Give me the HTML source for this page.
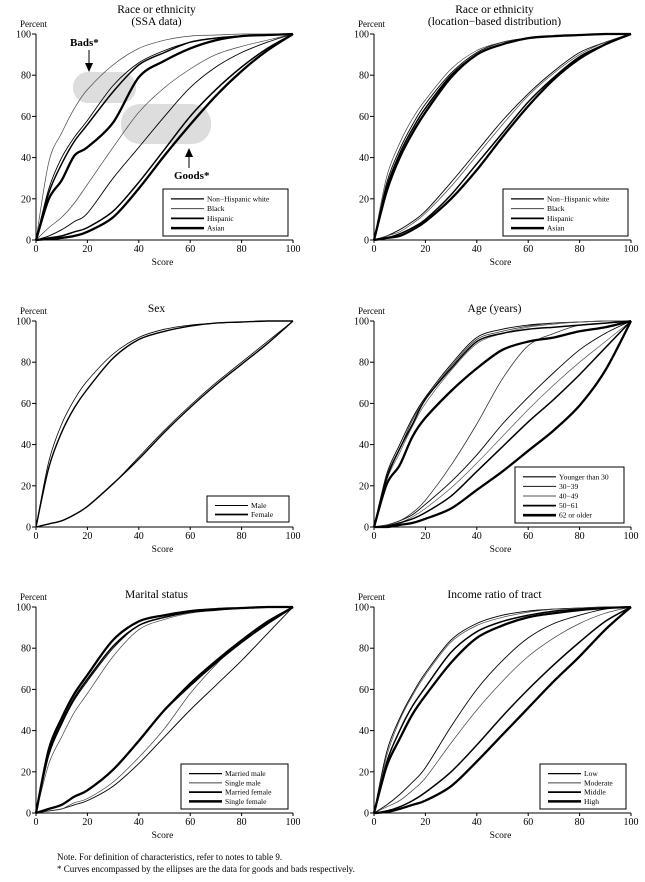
<!DOCTYPE html>
<html><head><meta charset="utf-8">
<style>
html,body{margin:0;padding:0;background:#fff;}
svg{display:block;font-family:"Liberation Serif",serif;}
</style></head>
<body>
<svg id="chart" width="645" height="882" viewBox="0 0 645 882" xmlns="http://www.w3.org/2000/svg"></svg>
<script>
// x-grid of score values (shared by every series)
const scoreGrid = [0,5,10,15,20,30,40,50,60,70,80,90,100];
const yTicks = [0,20,40,60,80,100];
const xTicks = [0,20,40,60,80,100];

// Panel 1: Race (SSA)
const p1Labels = ["Non\u2212Hispanic white","Black","Hispanic","Asian"];
const p1Bads = [
  [0,25,40,50,58,75,86,92,96,98,99,99.5,100],
  [0,38,52,64,73,85,93,97,99,99.5,100,100,100],
  [0,23,37,48,56,72,85,91,96,98,99,99.5,100],
  [0,20,29,41,45,57,79,87,93,97,99,99.5,100]
];
const p1Goods = [
  [0,2,5,9,13,30,45,60,74,84,91,96,100],
  [0,6,11,18,27,45,62,74,83,90,94,97,100],
  [0,1,2,4,6,14,28,44,60,73,84,93,100],
  [0,0.5,1,2,4,11,25,41,56,70,82,92,100]
];
// Panel 2: Race (location)
const p2Labels = ["Non\u2212Hispanic white","Black","Hispanic","Asian"];
const p2Bads = [
  [0,28,44,56,66,81,91,96,98,99,99.5,100,100],
  [0,31,47,59,68,83,92,96,98,99,99.5,100,100],
  [0,26,42,54,64,80,90,95,98,99,99.5,100,100],
  [0,24,40,52,62,79,90,95,98,99,99.5,100,100]
];
const p2Goods = [
  [0,2,5,9,14,28,43,58,71,82,91,96,100],
  [0,2,4,8,13,26,41,56,70,81,90,96,100],
  [0,1,3,6,10,22,37,52,67,79,89,95,100],
  [0,1,2,5,9,20,34,50,65,78,88,95,100]
];
// Panel 3: Sex
const p3Labels = ["Male","Female"];
const p3Bads = [
  [0,32,50,62,71,84,92,96,98,99,99.5,100,100],
  [0,29,46,58,67,82,91,95,97.5,99,99.5,100,100]
];
const p3Goods = [
  [0,1.5,3,6,10,21,34,47,59,70,80,90,100],
  [0,1.5,3,6,10,21,33,46,58,69,79,89,100]
];
// Panel 4: Age
const p4Labels = ["Younger than 30","30\u221239","40\u221249","50\u221261","62 or older"];
const p4Bads = [
  [0,26,40,53,63,79,92,96,98,99,99.5,100,100],
  [0,25,38,52,62,78,91,95,97.5,99,99.5,100,100],
  [0,23,36,49,60,76,89,94,97,98.5,99.5,100,100],
  [0,24,38,50,62,77,90,94,96,97,98,99,100],
  [0,21,30,44,53,66,77,86,90,92,95,97,100]
];
const p4Goods = [
  [0,1,3,6,11,22,35,50,63,75,86,94,100],
  [0,1,3,7,13,30,50,72,88,94,98,99,100],
  [0,1,2,5,9,19,31,44,57,69,80,90,100],
  [0,0.5,2,4,7,15,27,39,51,62,74,87,100],
  [0,0,1,2,4,9,18,27,37,47,59,76,100]
];
// Panel 5: Marital
const p5Labels = ["Married male","Single male","Married female","Single female"];
const p5Bads = [
  [0,28,43,55,64,80,91,95,97.5,98.5,99.5,100,100],
  [0,24,37,49,58,76,89,94,97,98.5,99.5,100,100],
  [0,29,44,56,65,81,91,95,97.5,98.5,99.5,100,100],
  [0,31,46,58,67,84,93,96,98,99,99.5,100,100]
];
const p5Goods = [
  [0,1,2,4,6,13,24,37,50,62,74,87,100],
  [0,1,2,5,7,15,27,41,58,72,84,93,100],
  [0,2,4,8,11,21,35,50,63,74,84,93,100],
  [0,2,4,8,11,21,35,50,62,73,83,92,100]
];
// Panel 6: Income
const p6Labels = ["Low","Moderate","Middle","High"];
const p6Bads = [
  [0,30,46,58,68,84,92,96,98,99,99.5,100,100],
  [0,28,45,57,67,83,91,95,97.5,99,99.5,100,100],
  [0,25,40,52,61,78,88,93,96,98,99,99.5,100],
  [0,23,36,48,57,73,85,91,95,97,98.5,99.5,100]
];
const p6Goods = [
  [0,4,9,15,22,42,60,74,85,92,96,99,100],
  [0,3,6,11,17,34,50,64,76,85,92,97,100],
  [0,1,3,6,10,20,33,47,60,72,83,93,100],
  [0,0.5,2,4,6,13,25,38,51,64,76,89,100]
];

const widths2 = [0.9,0.7,1.5,2.3];
const colors2 = ["#000","#444","#000","#000"];
const widths5 = [0.9,0.8,0.7,1.5,2.3];
const colors5 = ["#000","#333","#555","#000","#000"];

const panels = [
  {name:"race-ssa",title:["Race or ethnicity","(SSA data)"],x0:36,x1:293,y0:240,y1:34,labels:p1Labels,bads:p1Bads,goods:p1Goods,w:widths2,c:colors2,leg:[163,189,125,47]},
  {name:"race-location",title:["Race or ethnicity","(location\u2212based distribution)"],x0:374,x1:631,y0:240,y1:34,labels:p2Labels,bads:p2Bads,goods:p2Goods,w:widths2,c:colors2,leg:[503,189,125,47]},
  {name:"sex",title:["Sex"],x0:36,x1:293,y0:527,y1:321,labels:p3Labels,bads:p3Bads,goods:p3Goods,w:[0.8,1.4],c:["#000","#000"],leg:[207,496,82,26]},
  {name:"age",title:["Age (years)"],x0:374,x1:631,y0:527,y1:321,labels:p4Labels,bads:p4Bads,goods:p4Goods,w:widths5,c:colors5,leg:[515,467,109,56]},
  {name:"marital",title:["Marital status"],x0:36,x1:293,y0:813,y1:607,labels:p5Labels,bads:p5Bads,goods:p5Goods,w:widths2,c:colors2,leg:[181,764,107,45]},
  {name:"income",title:["Income ratio of tract"],x0:374,x1:631,y0:813,y1:607,labels:p6Labels,bads:p6Bads,goods:p6Goods,w:widths2,c:colors2,leg:[540,764,86,45]}
];

const NS="http://www.w3.org/2000/svg";
const svg=document.getElementById('chart');
function mk(tag,attrs,parent,text){const e=document.createElementNS(NS,tag);for(const k in attrs)e.setAttribute(k,attrs[k]);if(text!==undefined)e.textContent=text;(parent||svg).appendChild(e);return e;}
function smoothPath(pts){
  let d=`M${pts[0][0].toFixed(1)},${pts[0][1].toFixed(1)}`;
  for(let i=0;i<pts.length-1;i++){
    const p0=pts[Math.max(0,i-1)],p1=pts[i],p2=pts[i+1],p3=pts[Math.min(pts.length-1,i+2)];
    const t=0.16;
    let c1y=p1[1]+(p2[1]-p0[1])*t, c2y=p2[1]-(p3[1]-p1[1])*t;
    const lo=Math.min(p1[1],p2[1]),hi=Math.max(p1[1],p2[1]);
    c1y=Math.min(hi,Math.max(lo,c1y));c2y=Math.min(hi,Math.max(lo,c2y));
    const c1x=p1[0]+(p2[0]-p0[0])*t, c2x=p2[0]-(p3[0]-p1[0])*t;
    d+=` C${c1x.toFixed(1)},${c1y.toFixed(1)} ${c2x.toFixed(1)},${c2y.toFixed(1)} ${p2[0].toFixed(1)},${p2[1].toFixed(1)}`;
  }
  return d;
}

const g0=mk('g',{});


mk('rect',{x:73,y:72,width:63,height:31,rx:15,fill:'#ddd'},g0);
const g0b=mk('g',{});


mk('rect',{x:121,y:104,width:90,height:40,rx:19,fill:'#ddd'},g0b);

panels.forEach(p=>{
  const g=mk('g',{});
  
  
  const sx=v=>p.x0+(p.x1-p.x0)*v/100;
  const sy=v=>p.y0-(p.y0-p.y1)*v/100;
  const cx=(p.x0+p.x1)/2;
  p.title.forEach((t,i)=>{
    const e=mk('text',{x:cx-8,y:p.y1-(p.title.length-i)*12+3,'text-anchor':'middle','font-size':11.5},g,t);
    
    
  });
  const yl=mk('text',{x:p.x0-16,y:p.y1-7,'text-anchor':'start','font-size':9},g,'Percent');
  
  
  const ax=mk('path',{d:`M${p.x0},${p.y1}V${p.y0}H${p.x1}`,stroke:'#000','stroke-width':1,fill:'none'},g);
  
  
  yTicks.forEach(t=>{
    mk('line',{x1:p.x0-4,x2:p.x0,y1:sy(t),y2:sy(t),stroke:'#000','stroke-width':1},g);
    const e=mk('text',{x:p.x0-5,y:sy(t)+3.5,'text-anchor':'end','font-size':10},g,String(t));
    
    
  });
  xTicks.forEach(t=>{
    mk('line',{x1:sx(t),x2:sx(t),y1:p.y0,y2:p.y0+3,stroke:'#000','stroke-width':1},g);
    const e=mk('text',{x:sx(t),y:p.y0+12,'text-anchor':'middle','font-size':10},g,String(t));
    
    
  });
  const xl=mk('text',{x:cx-2,y:p.y0+25,'text-anchor':'middle','font-size':9.5},g,'Score');
  
  
  const draw=(arr,kind)=>arr.forEach((vals,i)=>{
    const pts=vals.map((v,j)=>[sx(scoreGrid[j]),sy(v)]);
    const l=mk('path',{d:smoothPath(pts),fill:'none',stroke:p.c[i],'stroke-width':p.w[i],'stroke-linejoin':'round'},g);
    
    
  });
  draw(p.goods,'goods');
  draw(p.bads,'bads');
  const [lx,ly,lw,lh]=p.leg;
  const lg=mk('g',{},g);
  
  
  mk('rect',{x:lx,y:ly,width:lw,height:lh,fill:'#fff',stroke:'#000','stroke-width':1},lg);
  const n=p.labels.length, step=(lh-8)/n;
  p.labels.forEach((lab,i)=>{
    const yy=ly+5+step*(i+0.5);
    mk('line',{x1:lx+8,x2:lx+41,y1:yy,y2:yy,stroke:p.c[i],'stroke-width':p.w[i]+0.3},lg);
    const e=mk('text',{x:lx+44,y:yy+2.5,'font-size':7.5},lg,lab);
    
    
  });
});

const an=mk('g',{});


mk('text',{x:70,y:46,'font-size':11,'font-weight':'bold'},an,'Bads*');
mk('line',{x1:89,y1:50,x2:89,y2:64,stroke:'#000','stroke-width':1},an);
mk('path',{d:'M85,63 L93,63 L89,72 Z',fill:'#000'},an);
const an2=mk('g',{});


mk('text',{x:174,y:179,'font-size':11,'font-weight':'bold'},an2,'Goods*');
mk('line',{x1:189,y1:157,x2:189,y2:168,stroke:'#000','stroke-width':1},an2);
mk('path',{d:'M185,157 L193,157 L189,148 Z',fill:'#000'},an2);

const n1=mk('text',{x:57,y:860,'font-size':9},svg,'Note. For definition of characteristics, refer to notes to table 9.');


const n2=mk('text',{x:57,y:872,'font-size':9},svg,'* Curves encompassed by the ellipses are the data for goods and bads respectively.');


</script>
</body></html>
